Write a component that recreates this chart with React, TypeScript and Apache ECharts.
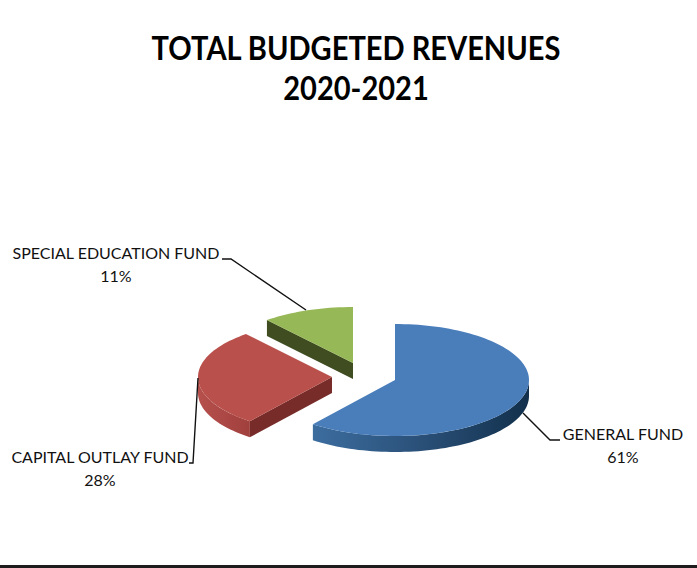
import React, { useEffect, useRef } from "react";
import * as echarts from "echarts";

const categories = ["GENERAL FUND", "CAPITAL OUTLAY FUND", "SPECIAL EDUCATION FUND"];
const values = [60.5, 28.4, 11.1];
const titleLines = ["TOTAL BUDGETED REVENUES", "2020-2021"];

const RX = 134;
const RY = 56;
const DEPTH = 16;
const centres = [[395, 380], [332, 377], [353, 363]];
const topColors = ["#4A7EBB", "#B9504B", "#97B856"];
const faceColors = ["#1F3E5E", "#772C2A", "#3F4D20"];
const sideStops = [
  ["#3C6D9F", "#2A5078", "#12304C"],
  ["#B5504C", "#AC4845", "#A0403D"],
  ["#5F7433", "#5F7433", "#5F7433"],
];
const labelPos = [[623, 445], [100, 468], [116, 264]];
const leaders = [
  [[523, 413], [550, 440], [560, 440]],
  [[198, 378], [193, 463], [189, 463]],
  [[306, 310], [231, 259], [222, 259]],
];

const pt = (c: number[], t: number, dy = 0): number[] => {
  const r = (t * Math.PI) / 180;
  return [c[0] + RX * Math.sin(r), c[1] - RY * Math.cos(r) + dy];
};

const arc = (c: number[], a: number, b: number, dy = 0): number[][] => {
  const out: number[][] = [];
  const n = Math.max(2, Math.ceil((b - a) / 2));
  for (let i = 0; i <= n; i++) out.push(pt(c, a + ((b - a) * i) / n, dy));
  return out;
};

export default function App() {
  const ref = useRef<HTMLDivElement>(null);
  useEffect(() => {
    const chart = echarts.init(ref.current!, undefined, { renderer: "svg" });
    const total = values.reduce((s, v) => s + v, 0);
    const renderItem = (params: any, api: any) => {
      const i = params.dataIndex;
      let before = 0;
      for (let k = 0; k < i; k++) before += values[k];
      const a = (before / total) * 360;
      const b = a + (api.value(0) / total) * 360;
      const c = centres[i];
      const children: any[] = [];
      const sa = Math.max(a, 90);
      const sb = Math.min(b, 270);
      if (sb > sa) {
        children.push({
          type: "polygon",
          shape: { points: [...arc(c, sa, sb), ...arc(c, sa, sb, DEPTH).reverse()] },
          style: {
            fill: new echarts.graphic.LinearGradient(1, 0, 0, 0, [
              { offset: 0, color: sideStops[i][2] },
              { offset: 0.5, color: sideStops[i][1] },
              { offset: 1, color: sideStops[i][0] },
            ]),
          },
        });
      }
      if (Math.sin((a * Math.PI) / 180) < -0.01) {
        const e = pt(c, a);
        children.push({
          type: "polygon",
          shape: { points: [c, e, [e[0], e[1] + DEPTH], [c[0], c[1] + DEPTH]] },
          style: { fill: faceColors[i] },
        });
      }
      children.push({
        type: "polygon",
        shape: { points: [c, ...arc(c, a, b)] },
        style: { fill: topColors[i] },
      });
      children.push({
        type: "polyline",
        shape: { points: leaders[i] },
        style: { stroke: "#111", lineWidth: 1.4, fill: "none" },
      });
      children.push({
        type: "text",
        style: {
          text: `${categories[i]}\n${Math.round(api.value(0))}%`,
          x: labelPos[i][0],
          y: labelPos[i][1],
          align: "center",
          verticalAlign: "middle",
          fontFamily: "Lato",
          fontSize: 16,
          lineHeight: 23,
          fill: "#111",
        },
      });
      return { type: "group", children };
    };
    const titleStyle = {
      fontFamily: "Lato",
      fontWeight: "bold",
      fontSize: 33,
      fill: "#000",
      align: "center",
      verticalAlign: "middle",
      x: 0,
    };
    chart.setOption({
      animation: false,
      backgroundColor: "#fff",
      graphic: [
        {
          type: "group",
          x: 356,
          y: 47,
          scaleX: 0.88,
          children: titleLines.map((t, k) => ({
            type: "text",
            style: { ...titleStyle, text: t, y: k * 40 },
          })),
        },
        { type: "rect", shape: { x: 0, y: 565, width: 697, height: 3 }, style: { fill: "#1E1C1D" } },
      ],
      series: [
        {
          type: "custom",
          coordinateSystem: "none",
          renderItem,
          data: values.map((v) => [v]),
          silent: true,
        },
      ],
    });
    return () => chart.dispose();
  }, []);
  return <div ref={ref} style={{ position: "absolute", left: 0, top: 0, width: 697, height: 568 }} />;
}
